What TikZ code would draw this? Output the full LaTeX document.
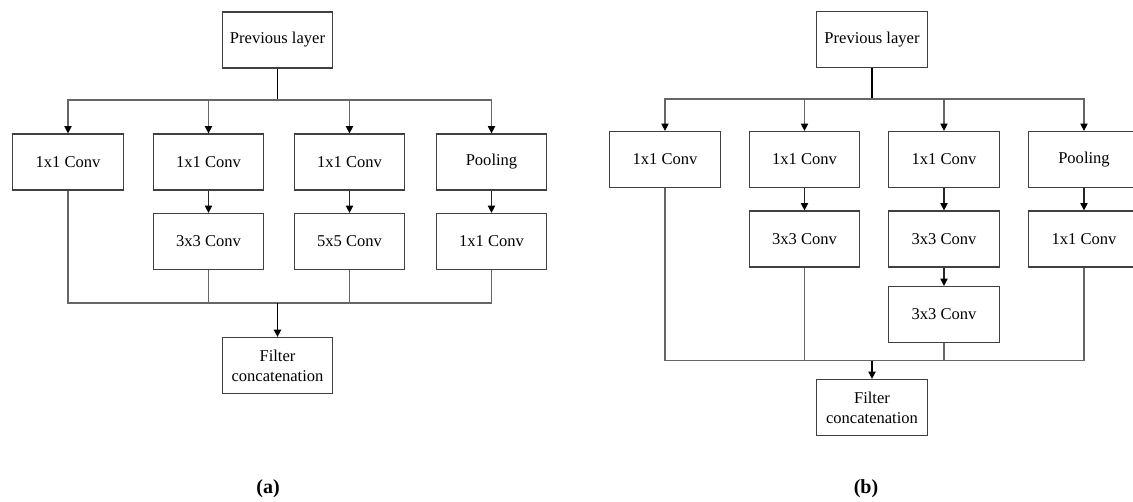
\documentclass[tikz,border=0pt]{standalone}
\usepackage{fontspec}
\setmainfont{Liberation Serif}
\usetikzlibrary{positioning, arrows.meta}

\begin{document}
\begin{tikzpicture}[x=0.75pt, y=-0.75pt]
        % Define styles for shapes
        \tikzstyle{layer} = [draw=black!75, line width=0.9pt, minimum width=83pt, minimum height=42pt, inner sep=0pt, align=center, font=\fontsize{12.4}{15}\selectfont]
        \tikzstyle{conn} = [draw=black!60, line width=0.8pt]
        \tikzstyle{link} = [draw=black!85, line width=0.8pt]
        \tikzstyle{stem} = [draw=black, line width=1.1pt]
        \tikzstyle{tip} = [-{Triangle[length=5.5pt, width=5.5pt, color=black]}]
        \tikzstyle{caption} = [font=\fontsize{15}{18}\selectfont\bfseries]
        \useasboundingbox (0,0) rectangle (1133,501);

        % Draw shapes (a)
        \node[layer] (prevA) at (277.5, 40) {Previous layer};
        \node[layer] (a1) at (68, 162) {1x1 Conv};
        \node[layer] (a2) at (208.5, 162) {1x1 Conv};
        \node[layer] (a3) at (349.5, 162) {1x1 Conv};
        \node[layer] (a4) at (491.5, 162) {Pooling};
        \node[layer] (a22) at (208.5, 241.5) {3x3 Conv};
        \node[layer] (a32) at (349.5, 241.5) {5x5 Conv};
        \node[layer] (a42) at (491.5, 241.5) {1x1 Conv};
        \node[layer] (filtA) at (277.5, 365.5) {Filter\\concatenation};
        \coordinate (splitA) at (277.5, 100);
        \coordinate (joinA) at (277.5, 303);
        \node[caption] (capA) at (268, 489) {(a)};

        % Draw shapes (b)
        \node[layer] (prevB) at (872, 39.5) {Previous layer};
        \node[layer] (b1) at (665, 159.5) {1x1 Conv};
        \node[layer] (b2) at (804.5, 159.5) {1x1 Conv};
        \node[layer] (b3) at (944, 159.5) {1x1 Conv};
        \node[layer] (b4) at (1084, 159.5) {Pooling};
        \node[layer] (b22) at (804.5, 239) {3x3 Conv};
        \node[layer] (b32) at (944, 239) {3x3 Conv};
        \node[layer] (b42) at (1084, 239) {1x1 Conv};
        \node[layer] (b33) at (944, 314.5) {3x3 Conv};
        \node[layer] (filtB) at (872, 407.5) {Filter\\concatenation};
        \coordinate (splitB) at (872, 99);
        \coordinate (joinB) at (872, 360.5);
        \node[caption] (capB) at (866, 489) {(b)};

        % Draw arrows (a)
        \draw[stem] (prevA) -- (splitA);
        \foreach \n in {a1, a2, a3, a4}
            \draw[conn, tip] (splitA) -| (\n);
        \draw[link, tip] (a2) -- (a22);
        \draw[link, tip] (a3) -- (a32);
        \draw[link, tip] (a4) -- (a42);
        \foreach \n in {a1, a22, a32, a42}
            \draw[conn] (\n) |- (joinA);
        \draw[stem, tip] (joinA) -- (filtA);

        % Draw arrows (b)
        \draw[stem] (prevB) -- (splitB);
        \foreach \n in {b1, b2, b3, b4}
            \draw[conn, tip] (splitB) -| (\n);
        \draw[link, tip] (b2) -- (b22);
        \draw[link, tip] (b3) -- (b32);
        \draw[link, tip] (b32) -- (b33);
        \draw[link, tip] (b4) -- (b42);
        \foreach \n in {b1, b22, b33, b42}
            \draw[conn] (\n) |- (joinB);
        \draw[stem, tip] (joinB) -- (filtB);
    \end{tikzpicture}
\end{document}
